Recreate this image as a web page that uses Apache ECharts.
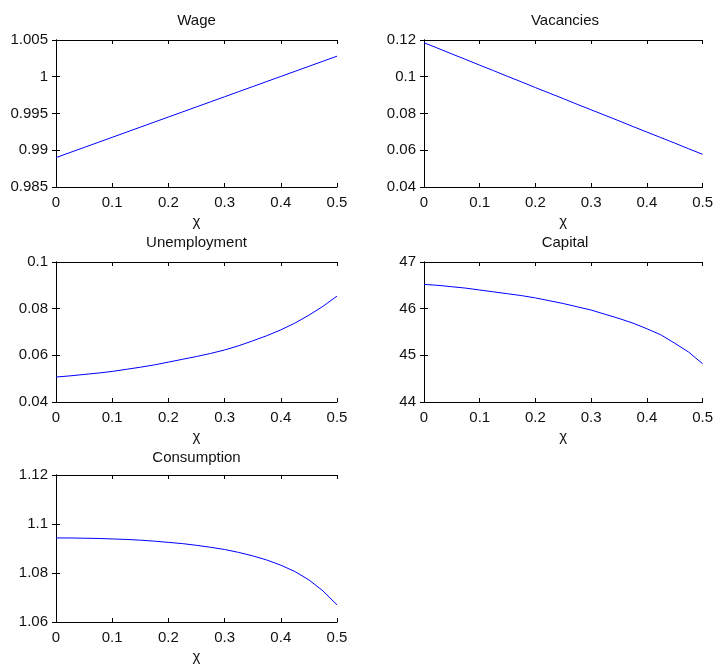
<!DOCTYPE html>
<html><head><meta charset="utf-8">
<script src="https://cdn.jsdelivr.net/npm/echarts@6/dist/echarts.min.js"></script>
<style>html,body{margin:0;padding:0;background:#fff}#c{width:716px;height:665px}</style>
</head><body><div id="c"></div>
<script>
const chi = [0, 0.025, 0.05, 0.075, 0.1, 0.125, 0.15, 0.175, 0.2, 0.225, 0.25, 0.275, 0.3, 0.325, 0.35, 0.375, 0.4, 0.425, 0.45, 0.475, 0.5];
const wage = [0.98900, 0.98969, 0.99038, 0.99107, 0.99176, 0.99245, 0.99314, 0.99383, 0.99452, 0.99521, 0.99590, 0.99659, 0.99728, 0.99797, 0.99866, 0.99935, 1.00004, 1.00073, 1.00142, 1.00211, 1.00280];
const vacancies = [0.1185, 0.1155, 0.1124, 0.1094, 0.1063, 0.1033, 0.1002, 0.0972, 0.0941, 0.0911, 0.0881, 0.0850, 0.0820, 0.0790, 0.0760, 0.0729, 0.0699, 0.0669, 0.0639, 0.0608, 0.0578];
const unemployment = [0.0507, 0.0512, 0.0518, 0.0524, 0.0531, 0.0540, 0.0549, 0.0559, 0.0571, 0.0583, 0.0595, 0.0608, 0.0623, 0.0641, 0.0662, 0.0684, 0.0709, 0.0738, 0.0772, 0.0810, 0.0854];
const capital = [46.52, 46.50, 46.47, 46.44, 46.40, 46.36, 46.32, 46.28, 46.23, 46.17, 46.11, 46.04, 45.97, 45.88, 45.79, 45.69, 45.57, 45.44, 45.26, 45.07, 44.82];
const consumption = [1.0943, 1.0943, 1.0942, 1.0941, 1.0939, 1.0937, 1.0934, 1.0930, 1.0925, 1.0920, 1.0913, 1.0905, 1.0896, 1.0884, 1.0870, 1.0853, 1.0832, 1.0806, 1.0772, 1.0727, 1.0670];
const titles = ['Wage', 'Vacancies', 'Unemployment', 'Capital', 'Consumption'];
const xName = 'χ';
const xTicks = {min: 0, max: 0.5, interval: 0.1};
const yTicks = [
  {min: 0.985, max: 1.005, interval: 0.005},
  {min: 0.04, max: 0.12, interval: 0.02},
  {min: 0.04, max: 0.1, interval: 0.02},
  {min: 44, max: 47, interval: 1},
  {min: 1.06, max: 1.12, interval: 0.02}
];
const seriesData = [wage, vacancies, unemployment, capital, consumption];

const grids = [
  {left: 56, top: 40, width: 281, height: 147},
  {left: 424, top: 40, width: 282, height: 147},
  {left: 56, top: 262, width: 281, height: 140},
  {left: 424, top: 262, width: 282, height: 140},
  {left: 56, top: 475, width: 281, height: 148}
];
const titleY = [13, 13, 235, 235, 450];
const FONT = 'Liberation Sans, Arial, sans-serif';
const TXT = '#111';

const option = {
  animation: false,
  backgroundColor: '#fff',
  title: [], grid: [], xAxis: [], yAxis: [], series: []
};
grids.forEach((g, i) => {
  option.grid.push(Object.assign({containLabel: false}, g));
  option.title.push({
    text: titles[i], left: g.left + g.width / 2, top: titleY[i], textAlign: 'center', padding: 0,
    textStyle: {fontFamily: FONT, fontSize: 15, fontWeight: 'normal', color: TXT}
  });
  const axLine = {show: true, lineStyle: {color: '#000', width: 1}};
  const tick = {show: true, inside: true, length: 4, lineStyle: {color: '#000'}};
  const lbl = {fontFamily: FONT, fontSize: 15, color: TXT};
  option.xAxis.push(Object.assign({
    type: 'value', gridIndex: i, position: 'bottom',
    name: xName, nameLocation: 'middle', nameGap: 27,
    nameTextStyle: {fontFamily: FONT, fontSize: 15, color: TXT},
    axisLine: axLine, axisTick: tick, splitLine: {show: false},
    axisLabel: Object.assign({margin: 8}, lbl)
  }, xTicks));
  option.xAxis.push(Object.assign({
    type: 'value', gridIndex: i, position: 'top',
    axisLine: axLine, axisTick: tick, splitLine: {show: false}, axisLabel: {show: false}
  }, xTicks));
  option.yAxis.push(Object.assign({
    type: 'value', gridIndex: i, position: 'left',
    axisLine: axLine, axisTick: tick, splitLine: {show: false},
    axisLabel: Object.assign({margin: 8}, lbl)
  }, yTicks[i]));
  option.yAxis.push(Object.assign({
    type: 'value', gridIndex: i, position: 'right',
    axisLine: axLine, axisTick: tick, splitLine: {show: false}, axisLabel: {show: false}
  }, yTicks[i]));
  option.series.push({
    type: 'line', xAxisIndex: 2 * i, yAxisIndex: 2 * i,
    data: chi.map((x, k) => [x, seriesData[i][k]]),
    smooth: false, showSymbol: false, symbol: 'none',
    lineStyle: {color: '#0000ff', width: 1}
  });
});
const chart = echarts.init(document.getElementById('c'), null, {renderer: 'canvas'});
chart.setOption(option);
</script></body></html>
